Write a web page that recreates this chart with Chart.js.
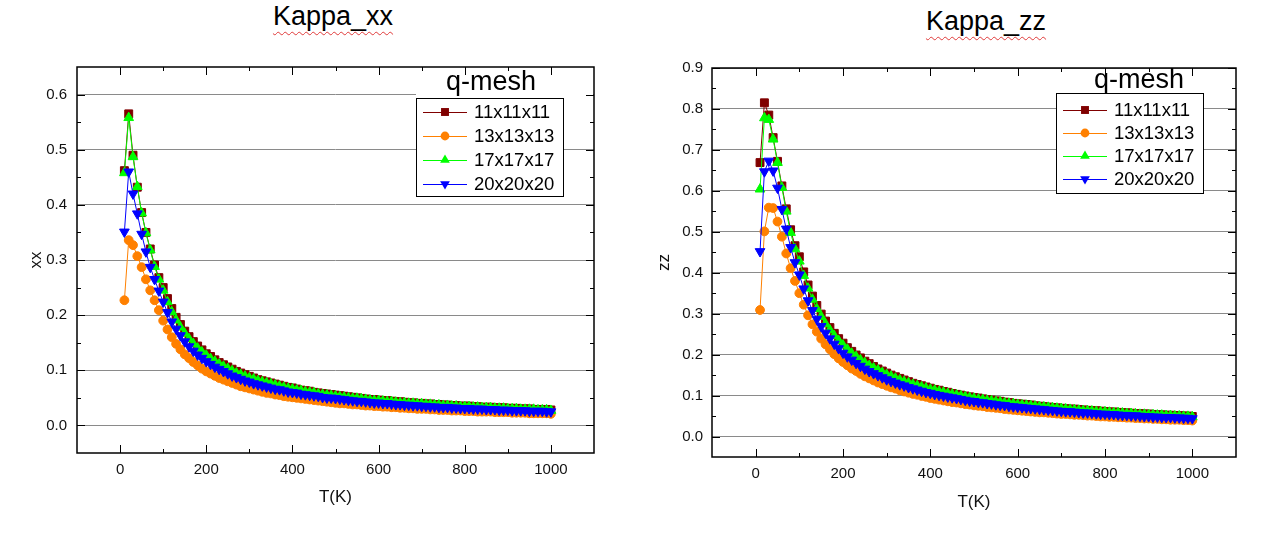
<!DOCTYPE html>
<html lang="en">
  <head>
    <meta charset="UTF-8" />
    <title>Kappa_xx / Kappa_zz</title>
    <style>
      body {
        margin: 0;
        background-color: #fff;
        font-family: "Liberation Sans", Arial, sans-serif;
      }
      .page {
        position: relative;
        width: 1274px;
        height: 538px;
        overflow: hidden;
      }
      canvas {
        position: absolute;
        top: 0;
      }
      #chartXX {
        left: 0;
      }
      #chartZZ {
        left: 637px;
      }
      .title {
        position: absolute;
        font-size: 27px;
        line-height: 27px;
        color: #000;
        white-space: nowrap;
        transform: translateX(-50%);
        text-decoration: underline wavy #e03a3a;
        text-decoration-thickness: 1px;
        text-underline-offset: 6px;
      }
    </style>
  </head>
  <body>
    <div class="page">
      <div class="title" style="left: 333px; top: 3px">Kappa_xx</div>
      <div class="title" style="left: 986px; top: 8px">Kappa_zz</div>
      <canvas id="chartXX" width="637" height="538"></canvas>
      <canvas id="chartZZ" width="637" height="538"></canvas>
    </div>
    <script src="https://cdn.jsdelivr.net/npm/chart.js"></script>
    <script>
      // temperatures, K
      const tValues = [
        10, 20, 30, 40, 50, 60, 70, 80, 90, 100,
        110, 120, 130, 140, 150, 160, 170, 180, 190, 200,
        210, 220, 230, 240, 250, 260, 270, 280, 290, 300,
        310, 320, 330, 340, 350, 360, 370, 380, 390, 400,
        410, 420, 430, 440, 450, 460, 470, 480, 490, 500,
        510, 520, 530, 540, 550, 560, 570, 580, 590, 600,
        610, 620, 630, 640, 650, 660, 670, 680, 690, 700,
        710, 720, 730, 740, 750, 760, 770, 780, 790, 800,
        810, 820, 830, 840, 850, 860, 870, 880, 890, 900,
        910, 920, 930, 940, 950, 960, 970, 980, 990, 1000,
      ];

      const seriesNames = ["11x11x11", "13x13x13", "17x17x17", "20x20x20"];

      // Kappa_xx
      const kxx11 = [
        0.462, 0.565, 0.490, 0.432, 0.386, 0.350, 0.320, 0.291, 0.268, 0.250,
        0.230, 0.212, 0.196, 0.183, 0.171, 0.161, 0.152, 0.144, 0.137, 0.130,
        0.125, 0.119, 0.114, 0.110, 0.106, 0.102, 0.098, 0.095, 0.092, 0.089,
        0.086, 0.083, 0.081, 0.079, 0.077, 0.075, 0.073, 0.071, 0.069, 0.068,
        0.066, 0.064, 0.063, 0.062, 0.060, 0.059, 0.058, 0.057, 0.056, 0.055,
        0.054, 0.053, 0.052, 0.051, 0.050, 0.049, 0.048, 0.047, 0.047, 0.046,
        0.045, 0.045, 0.044, 0.043, 0.043, 0.042, 0.041, 0.041, 0.040, 0.040,
        0.039, 0.039, 0.038, 0.038, 0.037, 0.037, 0.036, 0.036, 0.035, 0.035,
        0.035, 0.034, 0.034, 0.033, 0.033, 0.033, 0.032, 0.032, 0.032, 0.031,
        0.031, 0.031, 0.030, 0.030, 0.030, 0.029, 0.029, 0.029, 0.029, 0.028,
      ];
      const kxx13 = [
        0.227, 0.336, 0.327, 0.307, 0.287, 0.265, 0.245, 0.227, 0.209, 0.190,
        0.174, 0.160, 0.148, 0.138, 0.129, 0.122, 0.115, 0.109, 0.103, 0.098,
        0.094, 0.090, 0.086, 0.083, 0.080, 0.077, 0.074, 0.071, 0.069, 0.067,
        0.065, 0.063, 0.061, 0.059, 0.058, 0.056, 0.055, 0.053, 0.052, 0.051,
        0.050, 0.049, 0.048, 0.047, 0.046, 0.045, 0.044, 0.043, 0.042, 0.041,
        0.040, 0.040, 0.039, 0.038, 0.038, 0.037, 0.036, 0.036, 0.035, 0.035,
        0.034, 0.034, 0.033, 0.033, 0.032, 0.032, 0.031, 0.031, 0.030, 0.030,
        0.030, 0.029, 0.029, 0.028, 0.028, 0.028, 0.027, 0.027, 0.027, 0.026,
        0.026, 0.026, 0.025, 0.025, 0.025, 0.025, 0.024, 0.024, 0.024, 0.024,
        0.023, 0.023, 0.023, 0.023, 0.022, 0.022, 0.022, 0.022, 0.022, 0.021,
      ];
      const kxx17 = [
        0.458, 0.558, 0.487, 0.433, 0.385, 0.349, 0.318, 0.288, 0.265, 0.245,
        0.224, 0.206, 0.191, 0.178, 0.167, 0.157, 0.148, 0.140, 0.133, 0.127,
        0.121, 0.116, 0.111, 0.107, 0.103, 0.099, 0.095, 0.092, 0.089, 0.086,
        0.084, 0.081, 0.079, 0.077, 0.075, 0.073, 0.071, 0.069, 0.067, 0.066,
        0.064, 0.063, 0.061, 0.060, 0.059, 0.057, 0.056, 0.055, 0.054, 0.053,
        0.052, 0.051, 0.050, 0.049, 0.049, 0.048, 0.047, 0.046, 0.045, 0.045,
        0.044, 0.043, 0.043, 0.042, 0.041, 0.041, 0.040, 0.040, 0.039, 0.039,
        0.038, 0.038, 0.037, 0.037, 0.036, 0.036, 0.035, 0.035, 0.034, 0.034,
        0.034, 0.033, 0.033, 0.032, 0.032, 0.032, 0.031, 0.031, 0.031, 0.030,
        0.030, 0.030, 0.029, 0.029, 0.029, 0.029, 0.028, 0.028, 0.028, 0.027,
      ];
      const kxx20 = [
        0.351, 0.460, 0.420, 0.384, 0.347, 0.315, 0.287, 0.265, 0.244, 0.224,
        0.205, 0.188, 0.175, 0.163, 0.152, 0.143, 0.135, 0.128, 0.122, 0.116,
        0.111, 0.106, 0.102, 0.098, 0.094, 0.090, 0.087, 0.084, 0.081, 0.079,
        0.076, 0.074, 0.072, 0.070, 0.068, 0.066, 0.065, 0.063, 0.061, 0.060,
        0.059, 0.057, 0.056, 0.055, 0.054, 0.053, 0.051, 0.050, 0.050, 0.049,
        0.048, 0.047, 0.046, 0.045, 0.044, 0.044, 0.043, 0.042, 0.041, 0.041,
        0.040, 0.040, 0.039, 0.038, 0.038, 0.037, 0.037, 0.036, 0.036, 0.035,
        0.035, 0.034, 0.034, 0.033, 0.033, 0.033, 0.032, 0.032, 0.031, 0.031,
        0.031, 0.030, 0.030, 0.030, 0.029, 0.029, 0.029, 0.028, 0.028, 0.028,
        0.027, 0.027, 0.027, 0.027, 0.026, 0.026, 0.026, 0.026, 0.025, 0.025,
      ];

      // Kappa_zz
      const kzz11 = [
        0.669, 0.815, 0.785, 0.730, 0.672, 0.612, 0.556, 0.505, 0.466, 0.439,
        0.402, 0.370, 0.343, 0.320, 0.299, 0.282, 0.266, 0.252, 0.239, 0.228,
        0.217, 0.208, 0.199, 0.192, 0.184, 0.178, 0.171, 0.165, 0.160, 0.155,
        0.150, 0.146, 0.142, 0.138, 0.134, 0.130, 0.127, 0.124, 0.121, 0.118,
        0.115, 0.113, 0.110, 0.108, 0.105, 0.103, 0.101, 0.099, 0.097, 0.095,
        0.094, 0.092, 0.090, 0.089, 0.087, 0.086, 0.084, 0.083, 0.081, 0.080,
        0.079, 0.078, 0.077, 0.075, 0.074, 0.073, 0.072, 0.071, 0.070, 0.069,
        0.068, 0.067, 0.067, 0.066, 0.065, 0.064, 0.063, 0.063, 0.062, 0.061,
        0.060, 0.060, 0.059, 0.058, 0.058, 0.057, 0.056, 0.056, 0.055, 0.055,
        0.054, 0.053, 0.053, 0.052, 0.052, 0.051, 0.051, 0.050, 0.050, 0.049,
      ];
      const kzz13 = [
        0.309, 0.501, 0.559, 0.558, 0.525, 0.488, 0.447, 0.411, 0.380, 0.350,
        0.322, 0.296, 0.274, 0.256, 0.239, 0.225, 0.213, 0.201, 0.191, 0.182,
        0.174, 0.166, 0.160, 0.153, 0.147, 0.142, 0.137, 0.132, 0.128, 0.124,
        0.120, 0.117, 0.113, 0.110, 0.107, 0.104, 0.102, 0.099, 0.097, 0.094,
        0.092, 0.090, 0.088, 0.086, 0.084, 0.083, 0.081, 0.079, 0.078, 0.076,
        0.075, 0.074, 0.072, 0.071, 0.070, 0.069, 0.067, 0.066, 0.065, 0.064,
        0.063, 0.062, 0.061, 0.060, 0.059, 0.059, 0.058, 0.057, 0.056, 0.055,
        0.055, 0.054, 0.053, 0.053, 0.052, 0.051, 0.051, 0.050, 0.049, 0.049,
        0.048, 0.048, 0.047, 0.047, 0.046, 0.046, 0.045, 0.045, 0.044, 0.044,
        0.043, 0.043, 0.042, 0.042, 0.041, 0.041, 0.041, 0.040, 0.040, 0.039,
      ];
      const kzz17 = [
        0.604, 0.778, 0.774, 0.726, 0.669, 0.608, 0.550, 0.498, 0.458, 0.428,
        0.393, 0.362, 0.335, 0.312, 0.293, 0.275, 0.260, 0.246, 0.234, 0.223,
        0.213, 0.203, 0.195, 0.187, 0.180, 0.173, 0.167, 0.162, 0.156, 0.151,
        0.147, 0.142, 0.138, 0.134, 0.131, 0.127, 0.124, 0.121, 0.118, 0.115,
        0.113, 0.110, 0.108, 0.105, 0.103, 0.101, 0.099, 0.097, 0.095, 0.093,
        0.091, 0.090, 0.088, 0.087, 0.085, 0.084, 0.082, 0.081, 0.080, 0.078,
        0.077, 0.076, 0.075, 0.074, 0.073, 0.072, 0.071, 0.070, 0.069, 0.068,
        0.067, 0.066, 0.065, 0.064, 0.063, 0.063, 0.062, 0.061, 0.060, 0.060,
        0.059, 0.058, 0.058, 0.057, 0.056, 0.056, 0.055, 0.054, 0.054, 0.053,
        0.053, 0.052, 0.052, 0.051, 0.051, 0.050, 0.050, 0.049, 0.049, 0.048,
      ];
      const kzz20 = [
        0.452, 0.647, 0.673, 0.649, 0.607, 0.555, 0.507, 0.462, 0.425, 0.395,
        0.361, 0.332, 0.308, 0.287, 0.269, 0.253, 0.239, 0.226, 0.215, 0.204,
        0.195, 0.187, 0.179, 0.172, 0.165, 0.159, 0.154, 0.149, 0.144, 0.139,
        0.135, 0.131, 0.127, 0.124, 0.120, 0.117, 0.114, 0.111, 0.108, 0.106,
        0.103, 0.101, 0.099, 0.097, 0.095, 0.093, 0.091, 0.089, 0.087, 0.086,
        0.084, 0.083, 0.081, 0.080, 0.078, 0.077, 0.076, 0.074, 0.073, 0.072,
        0.071, 0.070, 0.069, 0.068, 0.067, 0.066, 0.065, 0.064, 0.063, 0.062,
        0.061, 0.061, 0.060, 0.059, 0.058, 0.058, 0.057, 0.056, 0.055, 0.055,
        0.054, 0.054, 0.053, 0.052, 0.052, 0.051, 0.051, 0.050, 0.049, 0.049,
        0.048, 0.048, 0.047, 0.047, 0.047, 0.046, 0.046, 0.045, 0.045, 0.044,
      ];

      // tick labels
      const xTicks = [0, 200, 400, 600, 800, 1000];
      const xMinorTicks = [100, 300, 500, 700, 900];
      const yTicksXX = [0, 0.1, 0.2, 0.3, 0.4, 0.5, 0.6];
      const yMinorXX = [0.05, 0.15, 0.25, 0.35, 0.45, 0.55];
      const yTicksZZ = [0, 0.1, 0.2, 0.3, 0.4, 0.5, 0.6, 0.7, 0.8, 0.9];
      const yMinorZZ = [0.05, 0.15, 0.25, 0.35, 0.45, 0.55, 0.65, 0.75, 0.85];

      // looks of each series (same order as seriesNames)
      const looks = [
        { color: "#800000", shape: "rect", radius: 5.6, rotation: 0 },
        { color: "#ff8000", shape: "circle", radius: 4.4, rotation: 0 },
        { color: "#00ff00", shape: "triangle", radius: 5.6, rotation: 0 },
        { color: "#0000ff", shape: "triangle", radius: 5.6, rotation: 180 },
      ];

      const FONT = '"Liberation Sans", Arial, sans-serif';
      Chart.defaults.font.family = FONT;
      Chart.defaults.color = "#111";

      function drawMarker(ctx, look, x, y) {
        const r = look.radius;
        ctx.beginPath();
        if (look.shape === "rect") {
          const s = r * Math.SQRT1_2;
          ctx.rect(x - s, y - s, 2 * s, 2 * s);
        } else if (look.shape === "circle") {
          ctx.arc(x, y, r, 0, Math.PI * 2);
        } else {
          const d = look.rotation === 180 ? -1 : 1;
          ctx.moveTo(x, y - d * r);
          ctx.lineTo(x + r * 0.866, y + d * r * 0.5);
          ctx.lineTo(x - r * 0.866, y + d * r * 0.5);
          ctx.closePath();
        }
        ctx.fill();
      }

      // "q-mesh" legend drawn inside the plot (before the frame, so ticks stay on top)
      const qmeshPlugin = {
        id: "qmesh",
        afterDatasetsDraw(chart, args, o) {
          const { ctx, chartArea: a } = chart;
          ctx.save();
          // white band behind the title hides the grid line under it
          ctx.fillStyle = "#fff";
          ctx.fillRect(o.left, o.titleY - 12, a.right - 1 - o.left, o.top - o.titleY + 12);
          ctx.font = "27px " + FONT;
          ctx.textAlign = "center";
          ctx.textBaseline = "middle";
          ctx.fillStyle = "#000";
          ctx.fillText("q-mesh", o.titleX, o.titleY);

          ctx.fillStyle = "#fff";
          ctx.fillRect(o.left, o.top, o.width, o.height);
          ctx.strokeStyle = "#000";
          ctx.lineWidth = 1;
          ctx.strokeRect(o.left + 0.5, o.top + 0.5, o.width, o.height);

          ctx.font = "18.5px " + FONT;
          ctx.textAlign = "left";
          seriesNames.forEach((name, i) => {
            const look = looks[i];
            const cy = o.top + o.firstRow + i * o.rowStep;
            ctx.strokeStyle = look.color;
            ctx.beginPath();
            ctx.moveTo(o.left + 7, Math.round(cy) + 0.5);
            ctx.lineTo(o.left + 51, Math.round(cy) + 0.5);
            ctx.stroke();
            ctx.fillStyle = look.color;
            drawMarker(ctx, look, o.left + 29, cy);
            ctx.fillStyle = "#000";
            ctx.fillText(name, o.left + 58, cy + 1);
          });
          ctx.restore();
        },
      };

      // box with inward tick marks, like the Origin frame
      const framePlugin = {
        id: "frame",
        afterDatasetsDraw(chart, args, opts) {
          const { ctx, chartArea: a, scales } = chart;
          const x = scales.x;
          const y = scales.y;
          ctx.save();
          ctx.strokeStyle = "#000";
          ctx.lineWidth = 1;
          ctx.beginPath();
          const vt = (v, len) => {
            const px = Math.round(x.getPixelForValue(v)) + 0.5;
            ctx.moveTo(px, a.bottom);
            ctx.lineTo(px, a.bottom - len);
            ctx.moveTo(px, a.top);
            ctx.lineTo(px, a.top + len);
          };
          const ht = (v, len) => {
            const py = Math.round(y.getPixelForValue(v)) + 0.5;
            ctx.moveTo(a.left, py);
            ctx.lineTo(a.left + len, py);
            ctx.moveTo(a.right, py);
            ctx.lineTo(a.right - len, py);
          };
          xTicks.forEach((v) => vt(v, 8));
          xMinorTicks.forEach((v) => vt(v, 4));
          opts.yMajor.forEach((v) => ht(v, 8));
          opts.yMinor.forEach((v) => ht(v, 4));
          ctx.stroke();
          ctx.lineWidth = 1.5;
          ctx.strokeRect(a.left, a.top, a.right - a.left, a.bottom - a.top);
          ctx.restore();
        },
      };

      function toPoints(values) {
        return tValues.map((t, i) => ({ x: t, y: values[i] }));
      }

      function makeChart(id, seriesList, cfg) {
        const datasets = seriesList.map((values, i) => ({
          label: seriesNames[i],
          data: toPoints(values),
          borderColor: looks[i].color,
          backgroundColor: looks[i].color,
          pointBackgroundColor: looks[i].color,
          pointBorderColor: looks[i].color,
          borderWidth: 1,
          pointBorderWidth: 1,
          pointStyle: looks[i].shape,
          pointRotation: looks[i].rotation,
          pointRadius: looks[i].radius,
          order: 3 - i,
        }));

        return new Chart(document.getElementById(id), {
          type: "line",
          data: { datasets: datasets },
          options: {
            responsive: false,
            animation: false,
            devicePixelRatio: 1,
            layout: { padding: cfg.padding },
            plugins: {
              legend: { display: false },
              tooltip: { enabled: false },
              frame: { yMajor: cfg.yTicks, yMinor: cfg.yMinor },
              qmesh: cfg.legend,
            },
            scales: {
              x: {
                type: "linear",
                min: -100,
                max: 1100,
                afterBuildTicks: (axis) => {
                  axis.ticks = xTicks.map((v) => ({ value: v }));
                },
                afterFit: (axis) => {
                  axis.height = cfg.xHeight;
                },
                grid: { display: false, drawTicks: false },
                border: { display: false },
                ticks: {
                  padding: 8,
                  maxRotation: 0,
                  font: { size: 15 },
                  callback: (v) => String(v),
                },
                title: {
                  display: true,
                  text: "T(K)",
                  font: { size: 17 },
                  padding: { top: 0, bottom: cfg.xTitlePad },
                },
              },
              y: {
                min: -0.05,
                max: cfg.yMax,
                afterBuildTicks: (axis) => {
                  axis.ticks = cfg.yTicks.map((v) => ({ value: v }));
                },
                afterFit: (axis) => {
                  axis.width = cfg.yWidth;
                },
                grid: { color: "#8a8a8a", lineWidth: 1, drawTicks: false },
                border: { display: false },
                ticks: {
                  padding: cfg.yTickPad,
                  font: { size: 15 },
                  callback: (v) => Number(v).toFixed(1),
                },
                title: {
                  display: true,
                  text: cfg.yTitle,
                  font: { size: 17 },
                  padding: { top: cfg.yTitlePad, bottom: 0 },
                },
              },
            },
          },
          plugins: [qmeshPlugin, framePlugin],
        });
      }

      makeChart("chartXX", [kxx11, kxx13, kxx17, kxx20], {
        padding: { left: 0, top: 67, right: 43, bottom: 0 },
        xHeight: 85,
        yWidth: 77,
        yMax: 0.65,
        yTicks: yTicksXX,
        yMinor: yMinorXX,
        yTitle: "xx",
        yTickPad: 10,
        xTitlePad: 30,
        yTitlePad: 26,
        legend: {
          left: 416, top: 98, width: 147, height: 98,
          firstRow: 14, rowStep: 24, titleX: 491, titleY: 83,
        },
      });

      makeChart("chartZZ", [kzz11, kzz13, kzz17, kzz20], {
        padding: { left: 0, top: 68, right: 38, bottom: 0 },
        xHeight: 81,
        yWidth: 75,
        yMax: 0.9,
        yTicks: yTicksZZ,
        yMinor: yMinorZZ,
        yTitle: "zz",
        yTickPad: 9,
        xTitlePad: 25,
        yTitlePad: 17,
        legend: {
          left: 419, top: 93, width: 147, height: 100,
          firstRow: 17, rowStep: 23, titleX: 502, titleY: 81,
        },
      });
    </script>
  </body>
</html>
